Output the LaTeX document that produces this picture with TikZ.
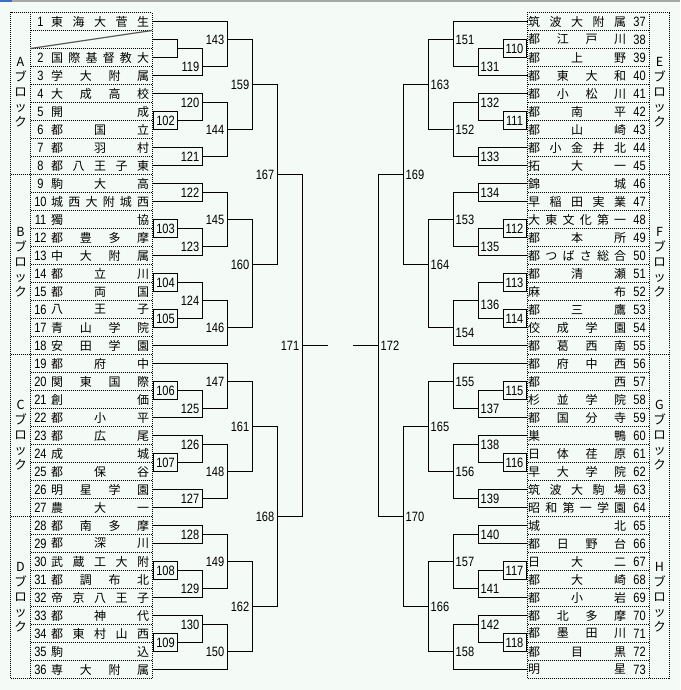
\documentclass[tikz,border=0pt]{standalone}
\usepackage{fontspec}
\newfontfamily\jp{Noto Sans CJK JP}
\newfontfamily\dg[FakeStretch=0.82]{Liberation Sans}
\definecolor{bgc}{HTML}{F4FAF6}
\definecolor{topgray}{HTML}{A8A8A4}
\definecolor{topblue}{HTML}{3A70C8}
\def\SpreadName#1{\SpreadNameB#1\relax}
\def\SpreadNameB#1#2{#1\ifx\relax#2\else\hfill\expandafter\SpreadNameB\expandafter#2\fi}
\tikzset{
  br/.style={line width=1pt, line cap=rect, black},
  dots/.style={line width=1pt, dash pattern=on 1pt off 1pt, black},
  num/.style={font=\dg\fontsize{13.5}{14}\selectfont, inner sep=0pt},
  lab/.style={font=\dg\fontsize{13.5}{14}\selectfont, inner sep=0pt},
  nm/.style={font=\jp\fontsize{12}{14}\selectfont, inner sep=0pt, anchor=west},
  blk/.style={font=\jp\fontsize{12.5}{15}\selectfont, inner sep=0pt, align=center},
}
% left leaf: row grid index k, end x
\newcommand\LL[2]{\draw[br] (152,{12.5+9*#1}) -- (#2,{12.5+9*#1});}
\newcommand\RL[2]{\draw[br] (527.5,{12.5+9*#1}) -- (#2,{12.5+9*#1});}
% match: x of vertical, k1, k2, kout, label
\newcommand\LM[6][0]{%
  \draw[br] (#2,{12.5+9*#3}) -- (#2,{12.5+9*#4});
  \draw[br] (#2,{12.5+9*#5}) -- ({#2+25},{12.5+9*#5});
  \node[lab,anchor=east,yshift=-#1pt] (m#6) at ({#2-2.5},{12.5+9*#5}) {#6};}
\newcommand\RM[6][0]{%
  \draw[br] (#2,{12.5+9*#3}) -- (#2,{12.5+9*#4});
  \draw[br] (#2,{12.5+9*#5}) -- ({#2-25},{12.5+9*#5});
  \node[lab,anchor=west,yshift=-#1pt] (m#6) at ({#2+2.5},{12.5+9*#5}) {#6};}
% boxed first-round matches: k1, label
\newcommand\LB[2]{%
  \draw[br] (153.5,{12.5+9*#1}) rectangle (177,{12.5+9*(#1+2)});
  \draw[br] (177,{12.5+9*(#1+1)}) -- (202,{12.5+9*(#1+1)});
  \node[lab] (m#2) at (165.5,{12.5+9*(#1+1)}) {#2};}
\newcommand\RB[2]{%
  \draw[br] (503,{12.5+9*#1}) rectangle (526.5,{12.5+9*(#1+2)});
  \draw[br] (503,{12.5+9*(#1+1)}) -- (478,{12.5+9*(#1+1)});
  \node[lab] (m#2) at (514.5,{12.5+9*(#1+1)}) {#2};}
% table rows: index, number, name
\newcommand\Lrow[3]{%
  \node[num] (ln#2) at (40.5,{21.5+18*#1}) {#2};
  \node[nm] (lt#2) at (51,{21.5+18*#1}) {\makebox[98pt][s]{\SpreadName{#3}}};}
\newcommand\Rrow[3]{%
  \node[num] (rn#2) at (639.5,{21.5+18*#1}) {#2};
  \node[nm] (rt#2) at (528,{21.5+18*#1}) {\makebox[98pt][s]{\SpreadName{#3}}};}
\begin{document}
\begin{tikzpicture}[x=1pt,y=-1pt]
\useasboundingbox (0,0) rectangle (680,690);
\fill[bgc] (0,0) rectangle (680,690);
\fill[topgray] (0,0) rectangle (680,1.6);
\fill[topblue] (0,0) rectangle (11.5,1.6);

% ---------- left table ----------
\draw[dots] (10.5,12.5) rectangle (152,678.5);
\draw[dots] (30.5,12.5) -- (30.5,678.5);
\foreach \i in {1,...,36} \draw[dots] (30.5,{12.5+18*\i}) -- (152,{12.5+18*\i});
\foreach \i in {9,19,28} \draw[dots] (10.5,{12.5+18*\i}) -- (30.5,{12.5+18*\i});
\draw[line width=1.2pt, black!65] (30.5,48.5) -- (152,30.5);

\node[blk] (bA) at (20.5,92) {A\\ブ\\ロ\\ッ\\ク};
\node[blk] (bB) at (20.5,262) {B\\ブ\\ロ\\ッ\\ク};
\node[blk] (bC) at (20.5,435) {C\\ブ\\ロ\\ッ\\ク};
\node[blk] (bD) at (20.5,597) {D\\ブ\\ロ\\ッ\\ク};

\Lrow{0}{1}{東海大菅生}
\Lrow{2}{2}{国際基督教大}
\Lrow{3}{3}{学大附属}
\Lrow{4}{4}{大成高校}
\Lrow{5}{5}{開成}
\Lrow{6}{6}{都国立}
\Lrow{7}{7}{都羽村}
\Lrow{8}{8}{都八王子東}
\Lrow{9}{9}{駒大高}
\Lrow{10}{10}{城西大附城西}
\Lrow{11}{11}{獨協}
\Lrow{12}{12}{都豊多摩}
\Lrow{13}{13}{中大附属}
\Lrow{14}{14}{都立川}
\Lrow{15}{15}{都両国}
\Lrow{16}{16}{八王子}
\Lrow{17}{17}{青山学院}
\Lrow{18}{18}{安田学園}
\Lrow{19}{19}{都府中}
\Lrow{20}{20}{関東国際}
\Lrow{21}{21}{創価}
\Lrow{22}{22}{都小平}
\Lrow{23}{23}{都広尾}
\Lrow{24}{24}{成城}
\Lrow{25}{25}{都保谷}
\Lrow{26}{26}{明星学園}
\Lrow{27}{27}{農大一}
\Lrow{28}{28}{都南多摩}
\Lrow{29}{29}{都深川}
\Lrow{30}{30}{武蔵工大附}
\Lrow{31}{31}{都調布北}
\Lrow{32}{32}{帝京八王子}
\Lrow{33}{33}{都神代}
\Lrow{34}{34}{都東村山西}
\Lrow{35}{35}{駒込}
\Lrow{36}{36}{専大附属}

% ---------- right table ----------
\draw[dots] (527.5,12.5) rectangle (669.5,678.5);
\draw[dots] (649.5,12.5) -- (649.5,678.5);
\foreach \i in {1,...,36} \draw[dots] (527.5,{12.5+18*\i}) -- (649.5,{12.5+18*\i});
\foreach \i in {9,19,28} \draw[dots] (649.5,{12.5+18*\i}) -- (669.5,{12.5+18*\i});

\node[blk] (bE) at (659.5,92) {E\\ブ\\ロ\\ッ\\ク};
\node[blk] (bF) at (659.5,262) {F\\ブ\\ロ\\ッ\\ク};
\node[blk] (bG) at (659.5,435) {G\\ブ\\ロ\\ッ\\ク};
\node[blk] (bH) at (659.5,597) {H\\ブ\\ロ\\ッ\\ク};

\Rrow{0}{37}{筑波大附属}
\Rrow{1}{38}{都江戸川}
\Rrow{2}{39}{都上野}
\Rrow{3}{40}{都東大和}
\Rrow{4}{41}{都小松川}
\Rrow{5}{42}{都南平}
\Rrow{6}{43}{都山崎}
\Rrow{7}{44}{都小金井北}
\Rrow{8}{45}{拓大一}
\Rrow{9}{46}{錦城}
\Rrow{10}{47}{早稲田実業}
\Rrow{11}{48}{大東文化第一}
\Rrow{12}{49}{都本所}
\Rrow{13}{50}{都つばさ総合}
\Rrow{14}{51}{都清瀬}
\Rrow{15}{52}{麻布}
\Rrow{16}{53}{都三鷹}
\Rrow{17}{54}{佼成学園}
\Rrow{18}{55}{都葛西南}
\Rrow{19}{56}{都府中西}
\Rrow{20}{57}{都西}
\Rrow{21}{58}{杉並学院}
\Rrow{22}{59}{都国分寺}
\Rrow{23}{60}{巣鴨}
\Rrow{24}{61}{日体荏原}
\Rrow{25}{62}{早大学院}
\Rrow{26}{63}{筑波大駒場}
\Rrow{27}{64}{昭和第一学園}
\Rrow{28}{65}{城北}
\Rrow{29}{66}{都日野台}
\Rrow{30}{67}{日大二}
\Rrow{31}{68}{都大崎}
\Rrow{32}{69}{都小岩}
\Rrow{33}{70}{都北多摩}
\Rrow{34}{71}{都墨田川}
\Rrow{35}{72}{都目黒}
\Rrow{36}{73}{明星}

% ---------- left bracket ----------
% A
\LL{1}{227} \LL{3}{177} \LL{5}{177} \LL{7}{202} \LL{9}{202} \LL{15}{202} \LL{17}{202}
\draw[br] (177,{12.5+9*3}) -- (177,{12.5+9*5});
\draw[br] (177,{12.5+9*4}) -- (202,{12.5+9*4});
\LM{202}{4}{7}{6}{119}
\LM{227}{1}{6}{3}{143}
\LB{11}{102}
\LM{202}{9}{12}{10}{120}
\LM{202}{15}{17}{16}{121}
\LM{227}{10}{16}{13}{144}
\LM{252}{3}{13}{8}{159}
% B
\LL{19}{202} \LL{21}{202} \LL{27}{202} \LL{37}{227}
\LM{202}{19}{21}{20}{122}
\LB{23}{103}
\LM{202}{24}{27}{26}{123}
\LM{227}{20}{26}{23}{145}
\LB{29}{104}
\LB{33}{105}
\LM{202}{30}{34}{32}{124}
\LM{227}{32}{37}{35}{146}
\LM{252}{23}{35}{28}{160}
\LM{277}{8}{28}{18}{167}
% C
\LL{39}{227} \LL{45}{202} \LL{47}{202} \LL{53}{202} \LL{55}{202}
\LB{41}{106}
\LM{202}{42}{45}{44}{125}
\LM{227}{39}{44}{41}{147}
\LB{49}{107}
\LM{202}{47}{50}{48}{126}
\LM{202}{53}{55}{54}{127}
\LM{227}{48}{54}{51}{148}
\LM{252}{41}{51}{46}{161}
% D
\LL{57}{202} \LL{59}{202} \LL{65}{202} \LL{67}{202} \LL{73}{227}
\LM{202}{57}{59}{58}{128}
\LB{61}{108}
\LM{202}{62}{65}{64}{129}
\LM{227}{58}{64}{61}{149}
\LB{69}{109}
\LM{202}{67}{70}{68}{130}
\LM{227}{68}{73}{71}{150}
\LM{252}{61}{71}{66}{162}
\LM{277}{46}{66}{56}{168}
\LM{302}{18}{56}{37}{171}

% ---------- right bracket ----------
% E
\RL{1}{453} \RL{7}{478} \RL{9}{478} \RL{15}{478} \RL{17}{478}
\RB{3}{110}
\RM{478}{4}{7}{6}{131}
\RM{453}{1}{6}{3}{151}
\RB{11}{111}
\RM{478}{9}{12}{10}{132}
\RM{478}{15}{17}{16}{133}
\RM{453}{10}{16}{13}{152}
\RM{428}{3}{13}{8}{163}
% F
\RL{19}{478} \RL{21}{478} \RL{27}{478} \RL{37}{453}
\RM{478}{19}{21}{20}{134}
\RB{23}{112}
\RM{478}{24}{27}{26}{135}
\RM{453}{20}{26}{23}{153}
\RB{29}{113}
\RB{33}{114}
\RM[4.5]{478}{30}{34}{32}{136}
\RM[5]{453}{32}{37}{35}{154}
\RM{428}{23}{35}{28}{164}
\RM{403}{8}{28}{18}{169}
% G
\RL{39}{453} \RL{45}{478} \RL{47}{478} \RL{53}{478} \RL{55}{478}
\RB{41}{115}
\RM{478}{42}{45}{44}{137}
\RM{453}{39}{44}{41}{155}
\RB{49}{116}
\RM{478}{47}{50}{48}{138}
\RM{478}{53}{55}{54}{139}
\RM{453}{48}{54}{51}{156}
\RM{428}{41}{51}{46}{165}
% H
\RL{57}{478} \RL{59}{478} \RL{65}{478} \RL{67}{478} \RL{73}{453}
\RM{478}{57}{59}{58}{140}
\RB{61}{117}
\RM{478}{62}{65}{64}{141}
\RM{453}{58}{64}{61}{157}
\RB{69}{118}
\RM{478}{67}{70}{68}{142}
\RM{453}{68}{73}{71}{158}
\RM{428}{61}{71}{66}{166}
\RM{403}{46}{66}{56}{170}
\RM{378}{18}{56}{37}{172}
\end{tikzpicture}
\end{document}
